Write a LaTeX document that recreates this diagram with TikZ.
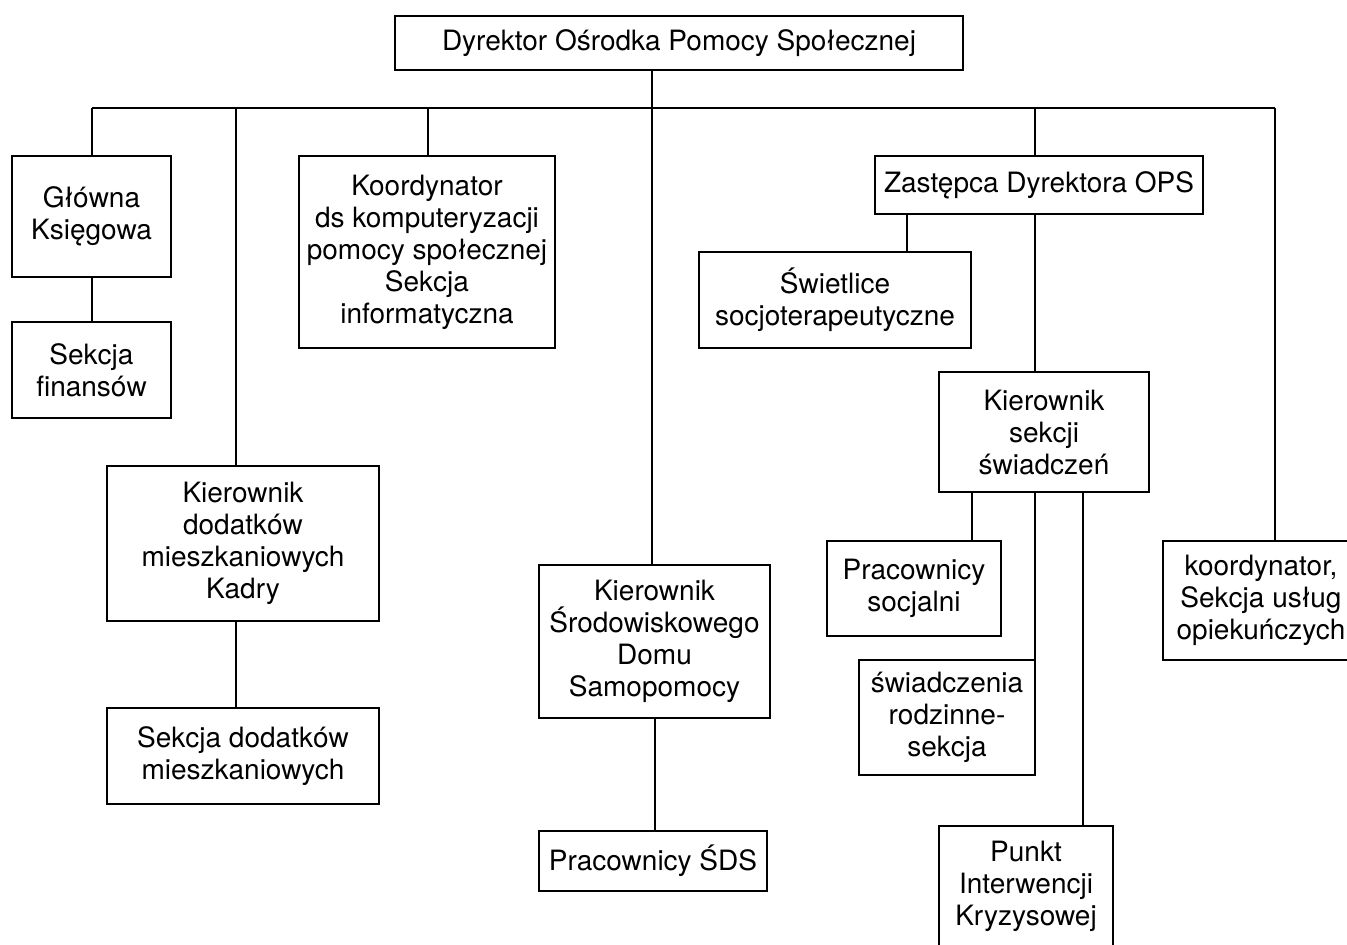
\documentclass[tikz,border=0pt]{standalone}
\usepackage{fontspec}
\setmainfont{TeX Gyre Heros}
\begin{document}
\begin{tikzpicture}[x=0.5pt,y=-0.5pt,
  box/.style={draw, line width=1pt, align=center, inner sep=0pt, outer sep=0pt,
    font=\fontsize{14}{16}\selectfont},
  link/.style={draw, line width=1pt}]
\useasboundingbox (0,0) rectangle (1347,944);
\node[box, minimum width=284pt, minimum height=27pt] (dyr) at (679,43) {Dyrektor Ośrodka Pomocy Społecznej};
\node[box, minimum width=79.5pt, minimum height=60.5pt] (ksieg) at (91.5,216.5) {Główna\\Księgowa};
\node[box, minimum width=79.5pt, minimum height=48pt] (fin) at (91.5,370) {Sekcja\\finansów};
\node[box, minimum width=128pt, minimum height=96pt] (koord) at (427,252) {Koordynator\\ds komputeryzacji\\pomocy społecznej\\Sekcja\\informatyczna};
\node[box, minimum width=136pt, minimum height=77.5pt] (kdod) at (243,543.5) {Kierownik\\dodatków\\mieszkaniowych\\Kadry};
\node[box, minimum width=136pt, minimum height=48pt] (sdod) at (243,756) {Sekcja dodatków\\mieszkaniowych};
\node[box, minimum width=115.5pt, minimum height=76.5pt] (ksds) at (654.5,641.5) {Kierownik\\Środowiskowego\\Domu\\Samopomocy};
\node[box, minimum width=114pt, minimum height=30pt] (psds) at (653,861) {Pracownicy ŚDS};
\node[box, minimum width=164pt, minimum height=29pt] (zast) at (1039,185) {Zastępca Dyrektora OPS};
\node[box, minimum width=136pt, minimum height=48pt] (swiet) at (835,300) {Świetlice\\socjoterapeutyczne};
\node[box, minimum width=105pt, minimum height=60pt] (ksw) at (1044,432) {Kierownik\\sekcji\\świadczeń};
\node[box, minimum width=87pt, minimum height=47.5pt] (psoc) at (914,588.5) {Pracownicy\\socjalni};
\node[box, minimum width=88pt, minimum height=57.5pt] (srodz) at (947,717.5) {świadczenia\\rodzinne-\\sekcja};
\node[box, minimum width=87pt, minimum height=60pt] (pik) at (1026,886) {Punkt\\Interwencji\\Kryzysowej};
\node[box, minimum width=98pt, minimum height=59.5pt] (kusl) at (1261,600.5) {koordynator,\\Sekcja usług\\opiekuńczych};
% main bus
\coordinate (bl) at (92,108);
\coordinate (b2) at (236,108);
\coordinate (b3) at (428,108);
\coordinate (b4) at (652,108);
\coordinate (b5) at (1035,108);
\coordinate (br) at (1275,108);
\path[link] (bl) -- (br);
\path[link] (b4 |- dyr.south) -- (b4 |- ksds.north);
\path[link] (bl) -- (bl |- ksieg.north);
\path[link] (b2) -- (b2 |- kdod.north);
\path[link] (b3) -- (b3 |- koord.north);
\path[link] (b5) -- (b5 |- zast.north);
\path[link] (br) -- (br |- kusl.north);
% lower links
\path[link] (ksieg.south) -- (fin.north);
\path[link] (b2 |- kdod.south) -- (b2 |- sdod.north);
\path[link] (ksds.south) -- (ksds.south |- psds.north);
\coordinate (s1) at (907,0);
\coordinate (s2) at (972,0);
\coordinate (s3) at (1083,0);
\path[link] (zast.south -| s1) -- (swiet.north -| s1);
\path[link] (zast.south -| b5) -- (ksw.north -| b5);
\path[link] (ksw.south -| s2) -- (psoc.north -| s2);
\path[link] (ksw.south -| srodz.north east) -- (srodz.north east);
\path[link] (ksw.south -| s3) -- (pik.north -| s3);
\end{tikzpicture}
\end{document}
